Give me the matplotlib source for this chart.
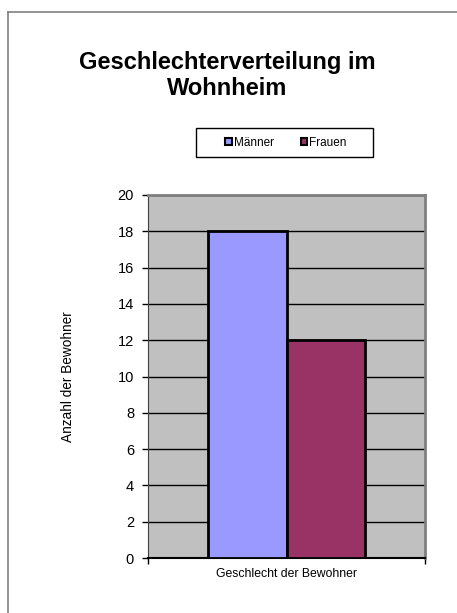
import matplotlib
matplotlib.use("Agg")
import matplotlib.pyplot as plt
from matplotlib.patches import Patch, Rectangle
from matplotlib.lines import Line2D

plt.rcParams['font.family'] = ['Liberation Sans', 'DejaVu Sans']

# data
series = ['Männer', 'Frauen']
values = [18, 12]
colors = ['#9999FF', '#993366']
category = 'Geschlecht der Bewohner'
yticks = [0, 2, 4, 6, 8, 10, 12, 14, 16, 18, 20]

W, H = 457, 613
fig = plt.figure(figsize=(W / 100, H / 100), dpi=100)

# outer chart border (top + left visible)
fig.add_artist(Line2D([8 / W, 1], [1 - 12 / H, 1 - 12 / H], transform=fig.transFigure,
                      color='#808080', lw=1.2))
fig.add_artist(Line2D([8 / W, 8 / W], [0, 1 - 12 / H], transform=fig.transFigure,
                      color='#808080', lw=1.2))

fig.text(227 / W, 1 - 75.5 / H, 'Geschlechterverteilung im\nWohnheim', ha='center', va='center',
         fontsize=17, fontweight='bold', linespacing=1.17)

ax = fig.add_axes([148 / W, 1 - 558 / H, (425 - 148) / W, (558 - 195) / H])
ax.set_facecolor('#C0C0C0')

width = 0.285
offsets = [-width / 2, width / 2]
for name, v, c, off in zip(series, values, colors, offsets):
    ax.bar(off, v, width=width, color=c, edgecolor='black', linewidth=2, label=name, zorder=3)

ax.set_xlim(-0.5, 0.5)
ax.set_ylim(0, 20)
ax.set_yticks(yticks)
ax.yaxis.grid(True, color='black', linewidth=1, zorder=1)
ax.set_axisbelow(True)
ax.tick_params(axis='y', labelsize=10.5, length=4, width=1, direction='out', pad=6)
ax.set_xticks([-0.5, 0.5])
ax.set_xticklabels(['', ''])
ax.tick_params(axis='x', length=4, width=1, direction='out')
ax.text(0, -0.045, category, transform=ax.get_xaxis_transform(), ha='center', va='center', fontsize=8.8)
ax.set_ylabel('Anzahl der Bewohner', fontsize=9.8, labelpad=31)

for s in ['top', 'right']:
    ax.spines[s].set_color('#808080')
    ax.spines[s].set_linewidth(2)
ax.spines['left'].set_color('#404040')
ax.spines['bottom'].set_color('black')
ax.spines['bottom'].set_linewidth(1.5)

# legend box
fig.add_artist(Rectangle((196 / W, 1 - 157 / H), 177 / W, 29 / H, transform=fig.transFigure,
                         facecolor='white', edgecolor='black', lw=1))
handles = [Patch(facecolor=c, edgecolor='black', linewidth=1.5) for c in colors]
fig.legend(handles, series, loc='center', bbox_to_anchor=(286 / W, 1 - 143 / H), ncol=2,
           frameon=False, fontsize=8.5, handlelength=0.55, handleheight=0.55, handletextpad=0.15,
           columnspacing=2.3)

fig.savefig('out.png', dpi=100)
